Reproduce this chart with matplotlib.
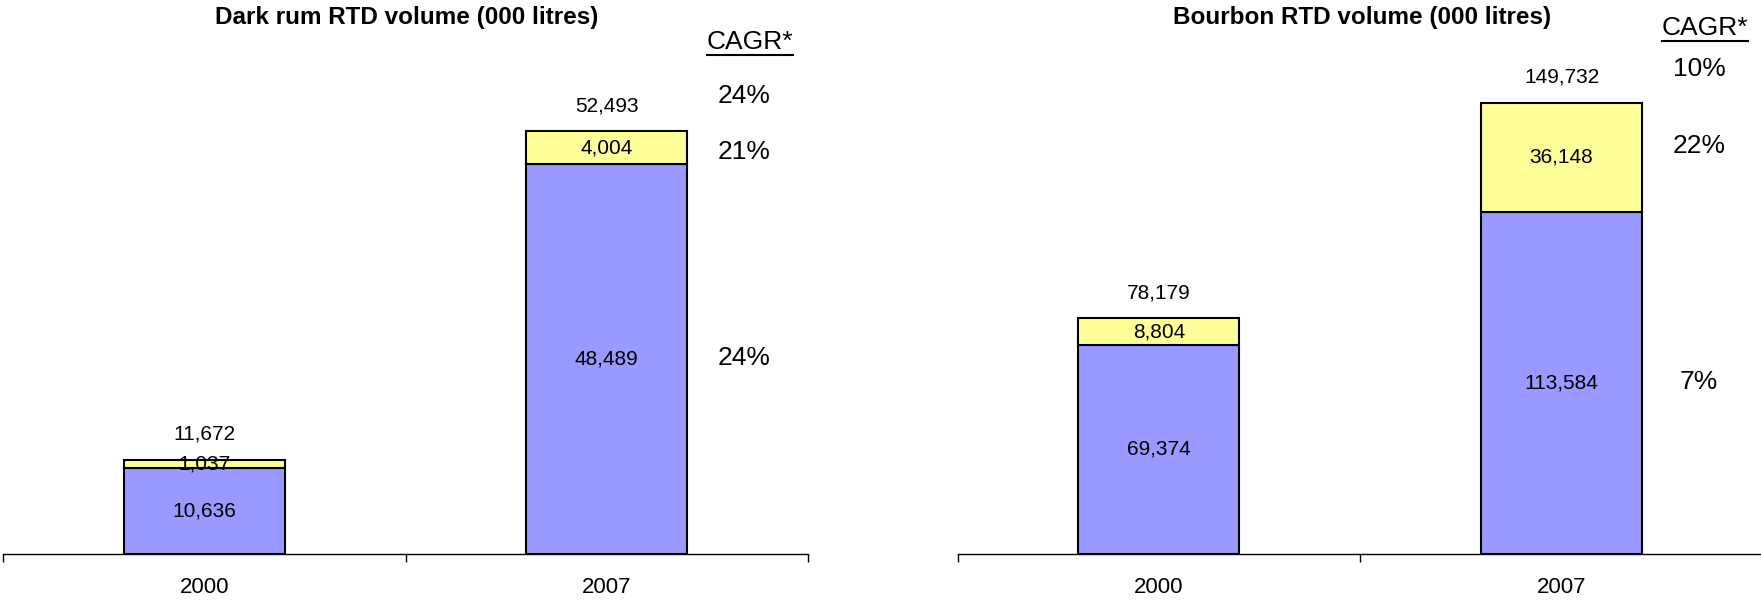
import matplotlib
matplotlib.use("Agg")
import matplotlib.pyplot as plt
from matplotlib.lines import Line2D

plt.rcParams['font.family'] = ['Liberation Sans', 'DejaVu Sans']

years = ['2000', '2007']

# dark rum RTD volume (000 litres)
rum_titles = 'Dark rum RTD volume (000 litres)'
rum_base = [10636, 48489]
rum_top = [1037, 4004]
rum_total = [11672, 52493]
rum_cagr = ['24%', '21%', '24%']

# bourbon RTD volume (000 litres)
bourbon_title = 'Bourbon RTD volume (000 litres)'
bourbon_base = [69374, 113584]
bourbon_top = [8804, 36148]
bourbon_total = [78179, 149732]
bourbon_cagr = ['10%', '22%', '7%']

blue = '#9999FF'
yellow = '#FFFF99'

W, H = 1761, 600
fig = plt.figure(figsize=(W / 100, H / 100), dpi=100)

axis_y = 553.8


def make_panel(left_px, width_px, ymax, title, base, top, total, cagr, cagr_y, head_y):
    ax = fig.add_axes([left_px / W, (H - axis_y) / H, width_px / W, axis_y / H])
    x = range(len(years))
    ax.bar(x, base, width=0.4, color=blue, edgecolor='black', linewidth=1.5)
    ax.bar(x, top, width=0.4, bottom=base, color=yellow, edgecolor='black', linewidth=1.5)
    ax.set_xlim(-0.5, 1.5)
    ax.set_ylim(0, ymax)
    for i in x:
        ax.text(i, base[i] / 2, f'{base[i]:,}', ha='center', va='center', fontsize=15)
        ax.text(i, base[i] + top[i] / 2, f'{top[i]:,}', ha='center', va='center', fontsize=15)
        ax.annotate(f'{total[i]:,}', (i, base[i] + top[i]), xytext=(0, 18.5),
                    textcoords='offset points', ha='center', va='center', fontsize=15)

    # category axis: boundaries ticked, labels centred
    ax.set_xticks([-0.5, 0.5, 1.5], minor=True)
    ax.set_xticks(list(x))
    ax.set_xticklabels(years, fontsize=16)
    ax.tick_params(axis='x', which='major', length=0, pad=17)
    ax.tick_params(axis='x', which='minor', length=6, width=1, direction='out')
    ax.set_yticks([])
    for s in ['left', 'right', 'top']:
        ax.spines[s].set_visible(False)
    ax.spines['bottom'].set_linewidth(1)

    ax.text(0.502, 0.9675, title, transform=ax.transAxes, ha='center', va='center',
            fontsize=17.5, fontweight='bold')
    head = ax.text(0.928, head_y, 'CAGR*', transform=ax.transAxes, ha='center',
                   va='center', fontsize=19)
    for lab, yy in zip(cagr, cagr_y):
        ax.text(0.9205, yy, lab, transform=ax.transAxes, ha='center', va='center',
                fontsize=19)
    return head


heads = []
heads.append(make_panel(3, 805, axis_y * 124.3, rum_titles, rum_base, rum_top, rum_total,
                        rum_cagr, [0.827, 0.726, 0.353], 0.924))
heads.append(make_panel(957.5, 805.5, axis_y * 331.9, bourbon_title, bourbon_base, bourbon_top,
                        bourbon_total, bourbon_cagr, [0.875, 0.736, 0.310], 0.95))

# underline the CAGR* headers
fig.canvas.draw()
r = fig.canvas.get_renderer()
for h in heads:
    bb = h.get_window_extent(r)
    yline = (bb.y0 - 1) / H
    fig.add_artist(Line2D([bb.x0 / W, bb.x1 / W], [yline, yline], color='black', linewidth=1.5))

fig.savefig('out.png', dpi=100)
